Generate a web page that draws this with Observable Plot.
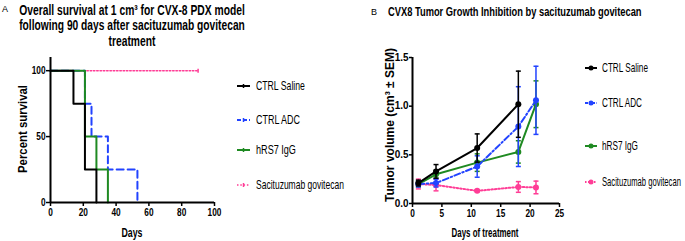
<!DOCTYPE html>
<html>
<head>
<meta charset="utf-8">
<script src="https://cdn.jsdelivr.net/npm/d3@7"></script>
<script src="https://cdn.jsdelivr.net/npm/@observablehq/plot@0.6"></script>
<style>
  html, body { margin: 0; padding: 0; background: #fff; }
  #wrap { position: relative; width: 685px; height: 241px; overflow: hidden; background: #fff; }
  #wrap > svg, #wrap > figure { position: absolute; margin: 0; }
</style>
</head>
<body>
<div id="wrap"></div>
<script>
// ---------------- DATA ----------------
// Panel A: Kaplan-Meier survival
const seriesNames = ["CTRL Saline", "CTRL ADC", "hRS7 IgG", "Sacituzumab govitecan"];
const salineDaysA = [0, 14, 21, 28];
const salineSurvA = [100, 75, 25, 0];
const adcDaysA = [0, 21, 25, 35, 53];
const adcSurvA = [100, 75, 50, 25, 0];
const igDaysA = [0, 21, 28, 35];
const igSurvA = [100, 50, 25, 0];
const sgDaysA = [0, 90];
const sgSurvA = [100, 100];
const censorDayA = [90];
const censorSurvA = [100];
const xTicksA = [0, 20, 40, 60, 80, 100];
const yTicksA = [0, 50, 100];

// Panel B: tumor growth (mean ± SEM)
const daysB = [1, 4, 11, 18, 21];
const salineVol = [0.21, 0.33, 0.57, 1.02, null];
const salineSem = [0.03, 0.07, 0.145, 0.34, null];
const adcVol = [0.20, 0.21, 0.38, 0.79, 1.06];
const adcSem = [0.03, 0.04, 0.11, 0.41, 0.35];
const igVol = [0.20, 0.30, 0.42, 0.53, 1.02];
const igSem = [0.03, 0.04, 0.09, 0.115, 0.24];
const sgVol = [0.20, 0.19, 0.13, 0.17, 0.165];
const sgSem = [0.05, 0.06, 0.01, 0.055, 0.065];
const xTicksB = [0, 5, 10, 15, 20, 25];
const yTicksB = [0, 0.5, 1.0, 1.5];

// Texts
const panelLabelA = "A";
const titleA = ["Overall survival at 1 cm³ for CVX-8 PDX model", "following 90 days after sacituzumab govitecan", "treatment"];
const yLabelA = "Percent survival";
const xLabelA = "Days";
const panelLabelB = "B";
const titleB = "CVX8 Tumor Growth Inhibition by sacituzumab govitecan";
const yLabelB = "Tumor volume (cm³ ± SEM)";
const xLabelB = "Days of treatment";

// ---------------- STYLE ----------------
const FONT = "'Liberation Sans Narrow','Arial Narrow','Liberation Sans',Arial,sans-serif";
const colors = ["#000000", "#2243ff", "#1f8a22", "#ff3d96"];
const dashA = [null, "7,4", null, "1.5,1.8"];
const widthA = [2, 2, 2, 1.5];
const dashB = [null, "6,2.5,1.5,2.5", null, "1.5,2"];

// ---------------- BUILD ROWS ----------------
const kmSets = [[salineDaysA, salineSurvA], [adcDaysA, adcSurvA], [igDaysA, igSurvA], [sgDaysA, sgSurvA]];
const kmRows = kmSets.map(([ds, ss], i) => ds.map((d, j) => ({series: seriesNames[i], idx: i, day: d, surv: ss[j]})));

const volSets = [[salineVol, salineSem], [adcVol, adcSem], [igVol, igSem], [sgVol, sgSem]];
const volRows = volSets.map(([vs, es], i) => daysB.map((d, j) => ({series: seriesNames[i], idx: i, day: d, vol: vs[j], sem: es[j]})).filter(r => r.vol != null));

const hCap = {draw(ctx, size) { const r = Math.sqrt(size / Math.PI); ctx.moveTo(-r, 0); ctx.lineTo(r, 0); }};
const vCap = {draw(ctx, size) { const r = Math.sqrt(size / Math.PI); ctx.moveTo(0, -r); ctx.lineTo(0, r); }};

const baseStyle = {fontFamily: FONT, fontSize: "10px", fontWeight: "bold", color: "#000", background: "transparent", overflow: "visible"};

// draw order (bottom -> top)
const orderA = [3, 1, 2, 0];
const orderB = [3, 2, 1, 0];

// ---------------- PANEL A ----------------
const plotA = Plot.plot({
  width: 230, height: 241,
  marginLeft: 50, marginRight: 16, marginTop: 57, marginBottom: 39,
  x: {domain: [0, 100]},
  y: {domain: [0, 110]},
  style: baseStyle,
  marks: [
    ...orderA.map(i => Plot.line(kmRows[i], {x: "day", y: "surv", curve: "step-after", stroke: colors[i], strokeWidth: widthA[i], strokeDasharray: dashA[i]})),
    Plot.dot(censorDayA.map((d, j) => ({day: d, surv: censorSurvA[j]})), {x: "day", y: "surv", symbol: vCap, r: 2, stroke: colors[3], strokeWidth: 1.5}),
    Plot.ruleX([0], {strokeWidth: 2}),
    Plot.ruleY([0], {strokeWidth: 2}),
    Plot.axisX({ticks: xTicksA, tickSize: 4, tickPadding: 2, strokeWidth: 1.5, label: null}),
    Plot.axisY({ticks: yTicksA, tickSize: 4, tickPadding: 1, strokeWidth: 1.5, label: null})
  ]
});
plotA.style.left = "0px"; plotA.style.top = "0px";

// ---------------- PANEL B ----------------
const plotB = Plot.plot({
  width: 230, height: 241,
  marginLeft: 67, marginRight: 16, marginTop: 57, marginBottom: 38,
  x: {domain: [0, 25]},
  y: {domain: [0, 1.5]},
  style: baseStyle,
  marks: [
    ...orderB.flatMap(i => [
      Plot.line(volRows[i], {x: "day", y: "vol", stroke: colors[i], strokeWidth: 2, strokeDasharray: dashB[i]}),
      Plot.ruleX(volRows[i], {x: "day", y1: d => d.vol - d.sem, y2: d => d.vol + d.sem, stroke: colors[i], strokeWidth: 1.5}),
      Plot.dot(volRows[i], {x: "day", y: d => d.vol - d.sem, symbol: hCap, r: 2.5, stroke: colors[i], strokeWidth: 1.5}),
      Plot.dot(volRows[i], {x: "day", y: d => d.vol + d.sem, symbol: hCap, r: 2.5, stroke: colors[i], strokeWidth: 1.5}),
      Plot.dot(volRows[i], {x: "day", y: "vol", r: 3, fill: colors[i], stroke: "none"})
    ]),
    Plot.ruleX([0], {strokeWidth: 2}),
    Plot.ruleY([0], {strokeWidth: 2}),
    Plot.axisX({ticks: xTicksB, tickSize: 4, tickPadding: 2, strokeWidth: 1.5, label: null}),
    Plot.axisY({ticks: yTicksB, tickSize: 3, tickPadding: 1, strokeWidth: 1.5, tickFormat: d3.format(".1f"), label: null})
  ]
});
plotB.style.left = "345px"; plotB.style.top = "0px";

const wrap = document.getElementById("wrap");
wrap.appendChild(plotA);
wrap.appendChild(plotB);

// narrow tick labels (reference uses a condensed typeface)
[plotA, plotB].forEach(p => d3.select(p).selectAll("g[aria-label$='tick label'] text").each(function () {
  const n = this.textContent.length;
  d3.select(this).attr("textLength", n * 4.6).attr("lengthAdjust", "spacingAndGlyphs");
}));

// ---------------- TITLES, AXIS TITLES & LEGENDS (overlay) ----------------
const ov = d3.select(wrap).append("svg")
  .attr("width", 685).attr("height", 241)
  .style("left", "0px").style("top", "0px")
  .style("font-family", FONT);

// text condensed horizontally (via scale) to the reference's narrow typeface width
function txt(x, y, s, size, weight, anchor, len, rot) {
  const t = ov.append("text").attr("font-size", size)
    .attr("font-weight", weight).attr("text-anchor", anchor || "start").text(s);
  let k = 1;
  if (len) { const w = t.node().getComputedTextLength(); if (w > 0) k = len / w; }
  t.attr("transform", `translate(${x},${y})${rot ? ` rotate(${rot})` : ""} scale(${k},1)`);
  return t;
}

txt(2, 12, panelLabelA, 9, "normal", "start");
const titleAY = [15, 30, 46];
const titleAW = [226, 226, 47];
titleA.forEach((s, i) => txt(132, titleAY[i], s, 14, "bold", "middle", titleAW[i]));

txt(371, 15, panelLabelB, 9, "normal", "start");
txt(388, 16, titleB, 13, "bold", "start", 254);

// axis titles
txt(27, 129, yLabelA, 13, "bold", "middle", 88, -90);
txt(132, 237, xLabelA, 13, "bold", "middle", 21);
txt(394, 125, yLabelB, 12, "bold", "middle", 154, -90);
txt(485, 237, xLabelB, 12, "bold", "middle", 67);

// Legend A
const legAY = [86, 120, 150, 185];
const legAW = [49, 44, 40, 88];
seriesNames.forEach((s, i) => {
  ov.append("line").attr("x1", 237).attr("x2", 250).attr("y1", legAY[i]).attr("y2", legAY[i])
    .attr("stroke", colors[i]).attr("stroke-width", i === 3 ? 1.5 : 2).attr("stroke-dasharray", dashA[i] ? (i === 1 ? "4,2" : "1.5,1.8") : null);
  ov.append("line").attr("x1", 243.5).attr("x2", 243.5).attr("y1", legAY[i] - 2).attr("y2", legAY[i] + 2)
    .attr("stroke", colors[i]).attr("stroke-width", 1.5);
  txt(256, legAY[i] + 4, s, 12, "normal", "start", legAW[i]);
});

// Legend B
const legBY = [68, 103, 146, 182];
const legBW = [46, 40, 36, 79];
seriesNames.forEach((s, i) => {
  ov.append("line").attr("x1", 585).attr("x2", 597).attr("y1", legBY[i]).attr("y2", legBY[i])
    .attr("stroke", colors[i]).attr("stroke-width", 2).attr("stroke-dasharray", dashB[i] ? (i === 1 ? "3,1.5,1,1.5" : "1.5,1.5") : null);
  ov.append("circle").attr("cx", 591).attr("cy", legBY[i]).attr("r", 2.5).attr("fill", colors[i]);
  txt(602, legBY[i] + 4, s, 12, "normal", "start", legBW[i]);
});
</script>
</body>
</html>
